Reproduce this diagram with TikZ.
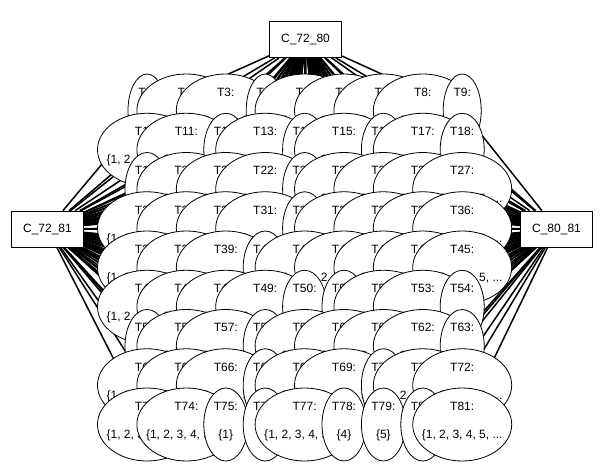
\documentclass[tikz,border=0pt]{standalone}
\usepackage{fontspec}
\setmainfont{Liberation Sans}
\usetikzlibrary{shapes.geometric,backgrounds}

% texto de cada tupla: dos líneas sin ocupar espacio en el nodo
\newcommand{\etiq}[2]{\smash{\makebox[0pt]{\begin{tabular}{@{}c@{}}#1\\ \\#2\end{tabular}}}}
\newcommand{\largo}{\{1, 2, 3, 4, 5, ...}

\tikzset{
  every node/.style={font=\fontsize{12pt}{14pt}\selectfont},
  tupla/.style={ellipse, draw, fill=white, line width=0.8pt, inner sep=0pt, minimum height=73pt},
  ancha/.style={tupla, minimum width=99pt},
  estrecha/.style={tupla, minimum width=44pt},
  corta/.style={tupla, minimum width=38pt},
  restr/.style={rectangle, draw, fill=white, line width=0.8pt, minimum width=72pt, minimum height=36pt},
  arista/.style={line width=1.5pt}
}

\begin{document}
\begin{tikzpicture}[x=1pt, y=-1pt]
 \useasboundingbox (0,0) rectangle (608,469);

 % --- RESTRICCIONES ---
 \node[restr] (c7280) at (305.5,39.5) {C\_72\_80};
 \node[restr] (c7281) at (47.5,229) {C\_72\_81};
 \node[restr] (c8081) at (556.5,229) {C\_80\_81};

 % --- TUPLAS (9 por fila, cada una tapa a la anterior) ---
 \foreach \n/\forma/\conj in {
   1/corta/\{1\}, 2/ancha/\largo, 3/ancha/\largo, 4/corta/\{2\}, 5/ancha/\largo, 6/ancha/\largo, 7/ancha/\largo, 8/ancha/\largo, 9/corta/\{3\},
   10/ancha/\largo, 11/ancha/\largo, 12/estrecha/\{1\}, 13/ancha/\largo, 14/estrecha/\{2\}, 15/ancha/\largo, 16/estrecha/\{3\}, 17/ancha/\largo, 18/estrecha/\{4\},
   19/estrecha/\{5\}, 20/ancha/\largo, 21/ancha/\largo, 22/ancha/\largo, 23/estrecha/\{1\}, 24/ancha/\largo, 25/ancha/\largo, 26/ancha/\largo, 27/ancha/\largo,
   28/ancha/\largo, 29/ancha/\largo, 30/ancha/\largo, 31/ancha/\largo, 32/estrecha/\{2\}, 33/ancha/\largo, 34/ancha/\largo, 35/ancha/\largo, 36/ancha/\largo,
   37/ancha/\largo, 38/ancha/\largo, 39/ancha/\largo, 40/estrecha/\{3\}, 41/ancha/\largo, 42/ancha/\largo, 43/ancha/\largo, 44/ancha/\largo, 45/ancha/\largo,
   46/ancha/\largo, 47/ancha/\largo, 48/ancha/\largo, 49/ancha/\largo, 50/estrecha/\{4\}, 51/estrecha/\{1\}, 52/ancha/\largo, 53/ancha/\largo, 54/estrecha/\{5\},
   55/estrecha/\{2\}, 56/ancha/\largo, 57/ancha/\largo, 58/estrecha/\{3\}, 59/ancha/\largo, 60/ancha/\largo, 61/ancha/\largo, 62/ancha/\largo, 63/estrecha/\{4\},
   64/ancha/\largo, 65/ancha/\largo, 66/ancha/\largo, 67/estrecha/\{5\}, 68/ancha/\largo, 69/ancha/\largo, 70/estrecha/\{1\}, 71/ancha/\largo, 72/ancha/\largo,
   73/ancha/\largo, 74/ancha/\largo, 75/estrecha/\{1\}, 76/estrecha/\{2\}, 77/ancha/\largo, 78/estrecha/\{4\}, 79/estrecha/\{5\}, 80/estrecha/\{3\}, 81/ancha/\largo}{
   \pgfmathtruncatemacro{\col}{mod(\n-1,9)}
   \pgfmathtruncatemacro{\fil}{div(\n-1,9)}
   \node[\forma] (t\n) at (147+39.4*\col, 110.5+39.25*\fil) {\etiq{T\n:}{\conj}};
 }

 % --- ARISTAS (detrás de las tuplas) ---
 \begin{pgfonlayer}{background}
  \foreach \n in {1,...,81} {
   \draw[arista] (c7280) -- (t\n);
   \draw[arista] (c7281) -- (t\n);
   \draw[arista] (c8081) -- (t\n);
  }
 \end{pgfonlayer}

\end{tikzpicture}
\end{document}
